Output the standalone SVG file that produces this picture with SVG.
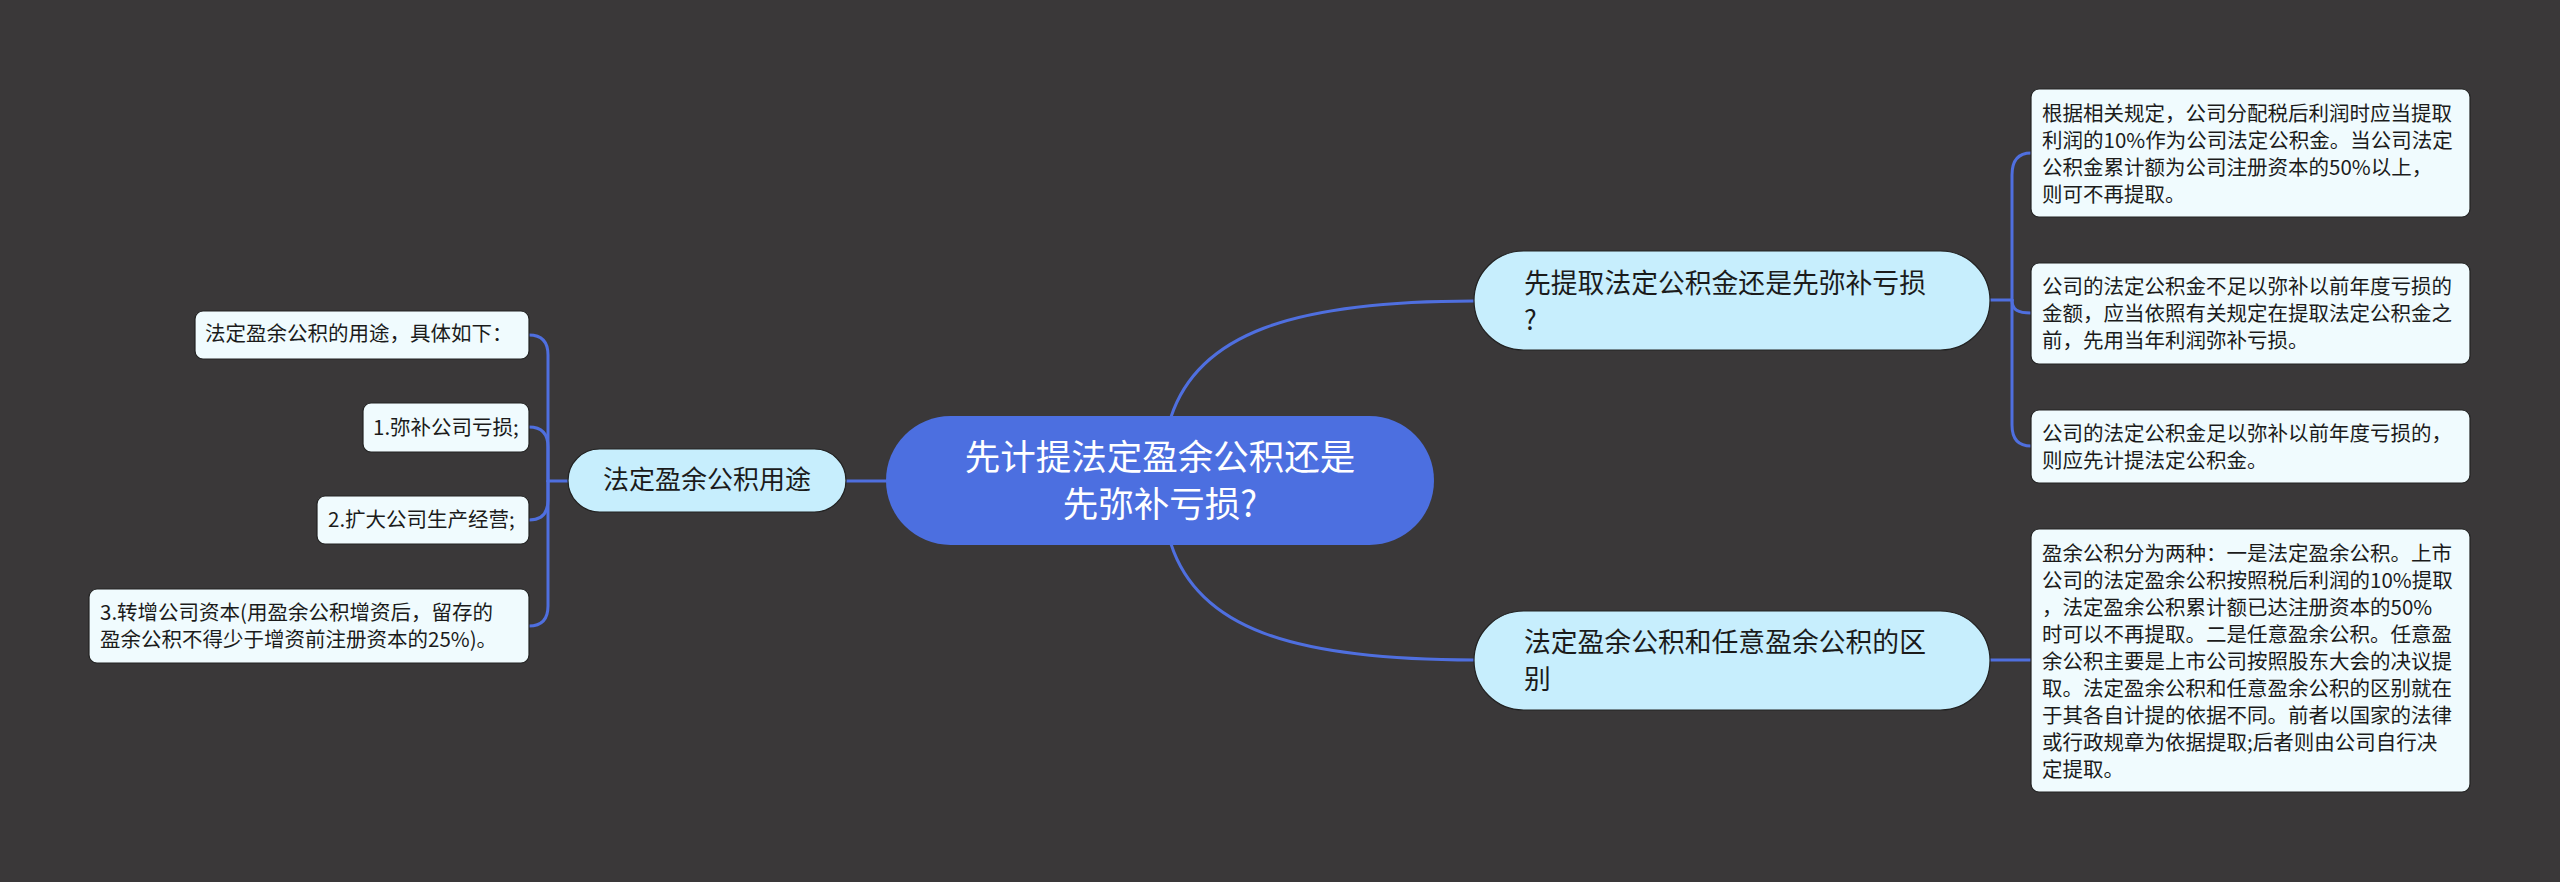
<svg xmlns="http://www.w3.org/2000/svg" width="2560" height="882" viewBox="0 0 2560 882">
<style>
text{font-family:"Noto Sans CJK SC","Noto Sans",sans-serif;fill:#1b1b1b}
.conn path{fill:none;stroke:#4f6fdf;stroke-width:3;stroke-linecap:round}
.root rect{fill:#4c6fe0}
.root text{fill:#ffffff;font-size:35.5px}
.sub rect{fill:#c7eefd;stroke:#222;stroke-width:1.2}
.sub text{font-size:26.8px}
.leaf rect{fill:#f0fbfe;stroke:#222;stroke-width:1.2}
.leaf text{font-size:20.5px}
</style>
<rect x="0" y="0" width="2560" height="882" fill="#3a3839"/>
<g class="conn" id="connectors">
<path d="M1171,417 C1198,335 1290,301 1474,301"/>
<path d="M1171,544 C1198,627 1290,660 1474,660"/>
<path d="M886,481 L846,481"/>
<path d="M568,481 L548,481"/>
<path d="M548,481 L548,355 Q548,335 529,335"/>
<path d="M548,481 L548,447 Q548,427 529,427"/>
<path d="M548,481 L548,500 Q548,520 529,520"/>
<path d="M548,481 L548,606 Q548,626 529,626"/>
<path d="M1990,300 L2012,300"/>
<path d="M2012,300 L2012,175 Q2012,153 2031,153"/>
<path d="M2012,300 C2012,310 2018,313 2031,313"/>
<path d="M2012,300 L2012,425 Q2012,446 2031,446"/>
<path d="M1990,660 L2031,660"/>
</g>
<g class="root" id="root">
<rect x="886" y="416" width="548" height="129" rx="64.5"/>
<text x="1160" y="470" text-anchor="middle">先计提法定盈余公积还是</text>
<text x="1160" y="517" text-anchor="middle">先弥补亏损?</text>
</g>
<g class="sub" id="n-right1">
<rect x="1474" y="251" width="516" height="99" rx="49.5"/>
<text x="1524" y="293">先提取法定公积金还是先弥补亏损</text>
<text x="1524" y="330">?</text>
</g>
<g class="sub" id="n-right2">
<rect x="1474" y="611" width="516" height="99" rx="49.5"/>
<text x="1524" y="652">法定盈余公积和任意盈余公积的区</text>
<text x="1524" y="689">别</text>
</g>
<g class="sub" id="n-left">
<rect x="568" y="449" width="278" height="63" rx="31.5"/>
<text x="707" y="489" text-anchor="middle" style="font-size:26px">法定盈余公积用途</text>
</g>
<g class="leaf" id="l1">
<rect x="195" y="311" width="334" height="48" rx="8"/>
<text x="205" y="341">法定盈余公积的用途，具体如下：</text>
</g>
<g class="leaf" id="l2">
<rect x="363" y="403" width="166" height="49" rx="8"/>
<text x="373" y="435">1.弥补公司亏损;</text>
</g>
<g class="leaf" id="l3">
<rect x="317" y="496" width="212" height="48" rx="8"/>
<text x="328" y="527">2.扩大公司生产经营;</text>
</g>
<g class="leaf" id="l4">
<rect x="89" y="589" width="440" height="74" rx="8"/>
<text x="100" y="620">3.转增公司资本(用盈余公积增资后，留存的</text>
<text x="100" y="647">盈余公积不得少于增资前注册资本的25%)。</text>
</g>
<g class="leaf" id="r1">
<rect x="2031" y="89" width="439" height="128" rx="8"/>
<text x="2042" y="121">根据相关规定，公司分配税后利润时应当提取</text>
<text x="2042" y="148">利润的10%作为公司法定公积金。当公司法定</text>
<text x="2042" y="175">公积金累计额为公司注册资本的50%以上，</text>
<text x="2042" y="202">则可不再提取。</text>
</g>
<g class="leaf" id="r2">
<rect x="2031" y="263" width="439" height="101" rx="8"/>
<text x="2042" y="294">公司的法定公积金不足以弥补以前年度亏损的</text>
<text x="2042" y="321">金额，应当依照有关规定在提取法定公积金之</text>
<text x="2042" y="348">前，先用当年利润弥补亏损。</text>
</g>
<g class="leaf" id="r3">
<rect x="2031" y="410" width="439" height="73" rx="8"/>
<text x="2042" y="441">公司的法定公积金足以弥补以前年度亏损的，</text>
<text x="2042" y="468">则应先计提法定公积金。</text>
</g>
<g class="leaf" id="r4">
<rect x="2031" y="529" width="439" height="263" rx="8"/>
<text x="2042" y="561">盈余公积分为两种：一是法定盈余公积。上市</text>
<text x="2042" y="588">公司的法定盈余公积按照税后利润的10%提取</text>
<text x="2042" y="615">，法定盈余公积累计额已达注册资本的50%</text>
<text x="2042" y="642">时可以不再提取。二是任意盈余公积。任意盈</text>
<text x="2042" y="669">余公积主要是上市公司按照股东大会的决议提</text>
<text x="2042" y="696">取。法定盈余公积和任意盈余公积的区别就在</text>
<text x="2042" y="723">于其各自计提的依据不同。前者以国家的法律</text>
<text x="2042" y="750">或行政规章为依据提取;后者则由公司自行决</text>
<text x="2042" y="777">定提取。</text>
</g>
</svg>
